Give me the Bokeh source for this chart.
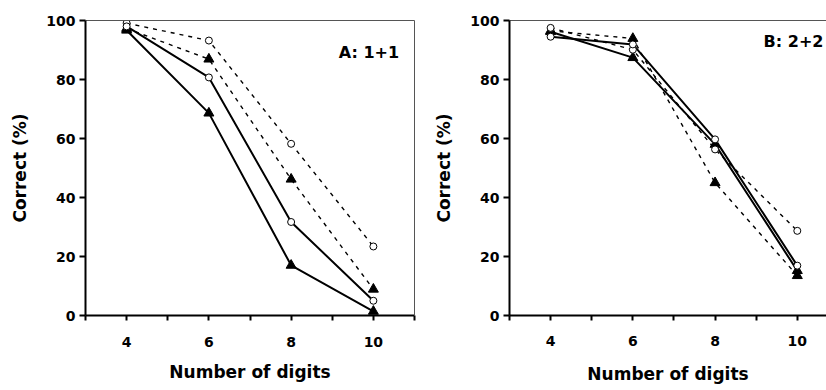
from bokeh.plotting import figure
from bokeh.layouts import row
from bokeh.models import FixedTicker, LinearAxis, Label
from bokeh.embed import file_html
from bokeh.resources import INLINE

digits = [4, 6, 8, 10]
x_ticks = [3, 4, 5, 6, 7, 8, 9, 10, 11]
x_tick_labels = {3: "", 4: "4", 5: "", 6: "6", 7: "", 8: "8", 9: "", 10: "10", 11: ""}
y_ticks = [0, 20, 40, 60, 80, 100]

# Panel A: 1+1
a_solid_tri = [96.7, 68.6, 17.0, 1.4]
a_solid_circ = [98.0, 80.7, 31.7, 5.0]
a_dash_tri = [97.3, 86.9, 46.2, 8.9]
a_dash_circ = [99.1, 93.2, 58.2, 23.4]

# Panel B: 2+2
b_solid_tri = [96.2, 87.4, 58.0, 15.2]
b_solid_circ = [94.5, 91.9, 59.7, 16.9]
b_dash_tri = [96.5, 93.9, 45.0, 13.5]
b_dash_circ = [97.5, 90.1, 56.3, 28.7]

FONT = "DejaVu Sans"


def make_panel(width, x_end, mb_left, mb_right, mb_top, mb_bottom, lab_so, title_so,
               label_text, label_x, label_y,
               solid_tri, solid_circ, dash_tri, dash_circ, right_border):
    p = figure(width=width, height=390, x_range=(3, x_end), y_range=(0, 100),
               output_backend="svg", toolbar_location=None,
               min_border_left=mb_left, min_border_right=mb_right,
               min_border_top=mb_top, min_border_bottom=mb_bottom,
               x_axis_label="Number of digits", y_axis_label="Correct (%)")
    p.grid.visible = False
    p.background_fill_color = "white"
    p.border_fill_color = "white"
    p.outline_line_color = None

    for ax in (p.xaxis[0], p.yaxis[0]):
        ax.axis_line_width = 2
        ax.axis_line_color = "black"
        ax.major_tick_line_width = 2
        ax.major_tick_line_color = "black"
        ax.major_tick_in = 0
        ax.minor_tick_line_color = None
        ax.major_label_text_font = FONT
        ax.major_label_text_font_style = "bold"
        ax.major_label_text_font_size = "14px"
        ax.major_label_text_color = "black"
        ax.axis_label_text_font = FONT
        ax.axis_label_text_font_style = "bold"
        ax.axis_label_text_font_size = "17px"
        ax.axis_label_text_color = "black"

    p.xaxis[0].ticker = FixedTicker(ticks=x_ticks)
    p.xaxis[0].major_label_overrides = x_tick_labels
    p.xaxis[0].major_tick_out = 5
    p.xaxis[0].major_label_standoff = lab_so
    p.xaxis[0].axis_label_standoff = title_so

    p.yaxis[0].ticker = FixedTicker(ticks=y_ticks)
    p.yaxis[0].major_tick_out = 6
    p.yaxis[0].major_label_standoff = 4
    p.yaxis[0].axis_label_standoff = 13

    # thin plot-area border (top, and right if visible)
    top = LinearAxis(axis_line_color="#555555", axis_line_width=1,
                     major_tick_line_color=None, minor_tick_line_color=None,
                     major_label_text_font_size="0px", ticker=FixedTicker(ticks=[]))
    p.add_layout(top, "above")
    if right_border:
        rgt = LinearAxis(axis_line_color="#555555", axis_line_width=1,
                         major_tick_line_color=None, minor_tick_line_color=None,
                         major_label_text_font_size="0px", ticker=FixedTicker(ticks=[]))
        p.add_layout(rgt, "right")

    # lines
    p.line(digits, dash_circ, line_color="black", line_width=1.4, line_dash="4 5")
    p.line(digits, dash_tri, line_color="black", line_width=1.4, line_dash="4 5")
    p.line(digits, solid_circ, line_color="black", line_width=2)
    p.line(digits, solid_tri, line_color="black", line_width=2)

    # markers
    for ys in (dash_tri, solid_tri):
        p.scatter(digits, ys, marker="triangle", size=10, fill_color="black",
                  line_color="black")
    for ys in (dash_circ, solid_circ):
        p.scatter(digits, ys, marker="circle", size=7, fill_color="white",
                  line_color="black", line_width=1)

    p.add_layout(Label(x=label_x, y=label_y, text=label_text, text_font=FONT,
                       text_font_style="bold", text_font_size="16px",
                       text_color="black", text_baseline="middle", text_align="left"))
    return p


pa = make_panel(430, 11, 85, 16, 20, 71, 16, 12, "A: 1+1", 9.16, 89,
                a_solid_tri, a_solid_circ, a_dash_tri, a_dash_circ, True)
pb = make_panel(396, 10.71, 79, 0, 20, 75, 15, 15, "B: 2+2", 9.18, 93,
                b_solid_tri, b_solid_circ, b_dash_tri, b_dash_circ, False)

layout = row(pa, pb)
open("out.html", "w").write(file_html(layout, INLINE))
